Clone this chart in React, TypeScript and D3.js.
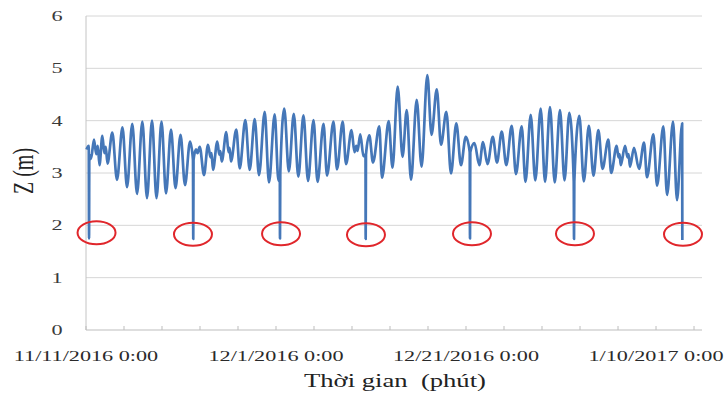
import React from "react";
import * as d3 from "d3";

// Water level record, Z (m), starting 11/11/2016 0:00; time is in days from the start.
const START = new Date(2016, 10, 11, 0, 0);
const DAY_MS = 86400000;

const tideDays = [
  0.05, 0.29, 0.35, 0.53, 0.84, 1.08, 1.24, 1.42, 1.72, 1.93, 2.08, 2.26, 2.77, 3.26, 3.84, 4.32,
  4.87, 5.37, 5.93, 6.42, 6.95, 7.42, 7.95, 8.42, 8.95, 9.42, 9.95, 10.42, 10.95, 11.26,
  11.32, 11.58, 11.74, 11.97, 12.42, 12.84, 13.11, 13.21, 13.37, 13.82, 14.03, 14.14, 14.29,
  14.77, 15.0, 15.11, 15.26, 15.82, 16.18, 16.77, 17.23, 17.76, 18.21, 18.81, 19.26, 19.86,
  20.26, 20.4, 20.45, 20.87, 21.35, 21.87, 22.35, 22.89, 23.37, 23.95, 24.37, 25.0, 25.37,
  26.05, 26.42, 27.02, 27.37, 27.95, 28.26, 28.45, 28.58, 28.87, 29.21, 29.42, 29.47, 29.82,
  30.21, 30.87, 31.16, 31.86, 32.26, 32.81, 33.32, 33.76, 34.21, 34.81, 35.32, 35.93, 36.37,
  36.92, 37.37, 37.93, 38.42, 38.98, 39.47, 39.97, 40.39, 40.45, 40.89, 41.4, 41.79, 42.26,
  42.82, 43.26, 43.76, 44.24, 44.81, 45.26, 45.86, 46.26, 46.81, 47.29, 47.86, 48.32, 48.84,
  49.34, 49.89, 50.37, 50.87, 51.34, 51.4, 51.93, 52.4, 52.93, 53.42, 53.93, 54.37, 54.98,
  55.28, 55.86, 56.05, 56.16, 56.29, 56.74, 57.0, 57.11, 57.26, 57.68, 58.21, 58.74, 59.05,
  59.72, 60.11, 60.77, 61.16, 61.79, 62.21, 62.75,
];

const tideLevels = [
  3.45, 3.52, 3.35, 3.27, 3.64, 3.36, 3.52, 3.15, 3.71, 3.38, 3.5, 3.18, 3.77, 2.87, 3.87, 2.73,
  3.94, 2.6, 3.98, 2.52, 4.0, 2.52, 3.98, 2.61, 3.83, 2.71, 3.73, 2.77, 3.6, 3.25,
  3.25, 3.45, 3.38, 3.5, 2.96, 3.54, 3.3, 3.38, 3.06, 3.6, 3.35, 3.42, 3.22,
  3.78, 3.4, 3.48, 3.22, 3.83, 3.09, 4.01, 3.06, 4.03, 2.96, 4.17, 2.82, 4.12,
  2.85, 3.0, 3.0, 4.23, 3.03, 4.13, 2.93, 4.1, 2.85, 4.01, 2.83, 3.94, 2.95,
  3.98, 3.07, 3.98, 3.17, 3.82, 3.4, 3.52, 3.42, 3.74, 3.32, 3.35, 3.35, 3.72,
  3.2, 3.89, 2.91, 3.99, 3.1, 4.65, 3.31, 4.2, 2.87, 4.4, 3.12, 4.87, 3.73,
  4.6, 3.54, 4.17, 2.99, 3.95, 3.15, 3.69, 3.4, 3.4, 3.57, 3.15, 3.59, 3.17,
  3.69, 3.2, 3.79, 3.15, 3.9, 2.98, 3.89, 2.83, 4.11, 2.86, 4.23, 2.83, 4.26,
  2.82, 4.2, 2.86, 4.15, 2.84, 2.84, 4.09, 2.84, 3.9, 2.95, 3.82, 3.08, 3.64,
  3.0, 3.52, 3.3, 3.36, 3.15, 3.52, 3.3, 3.36, 3.12, 3.48, 3.08, 3.58, 2.92,
  3.74, 2.76, 3.89, 2.58, 3.98, 2.48, 3.95,
];

// Faulty readings at the joins between logger downloads
const gapDays = [0.32, 11.29, 20.42, 29.44, 40.42, 51.37, 62.77];
const gapLevels = [1.75, 1.74, 1.75, 1.74, 1.75, 1.74, 1.72];

// Circled faulty readings (ellipse centres)
const markDays = [1.11, 11.26, 20.53, 29.47, 40.63, 51.47, 62.84];
const markLevels = [1.86, 1.83, 1.84, 1.82, 1.84, 1.84, 1.83];

const yTicks = [0, 1, 2, 3, 4, 5, 6];
const xTickDays = [0, 4, 8, 12, 16, 20, 24, 28, 32, 36, 40, 44, 48, 52, 56, 60, 64];
const xLabelDays = [0, 20, 40, 60];
const AXIS_END_DAY = 64.84;

const W = 724;
const H = 394;
const M = { left: 86, right: 702, top: 16, bottom: 330 };
const FONT = "'Liberation Serif', 'Times New Roman', serif";
const STRETCH = 1.48;

const toDate = (d: number) => new Date(START.getTime() + d * DAY_MS);

export default function App() {
  const x = d3
    .scaleTime()
    .domain([START, toDate(AXIS_END_DAY)])
    .range([M.left, M.right]);
  const y = d3.scaleLinear().domain([0, 6]).range([M.bottom, M.top]);

  const points: [number, number][] = tideDays
    .map((d, i) => [d, tideLevels[i]] as [number, number])
    .concat(gapDays.map((d, i) => [d, gapLevels[i]] as [number, number]))
    .sort((a, b) => a[0] - b[0]);

  const line = d3
    .line<[number, number]>()
    .x((p) => x(toDate(p[0])))
    .y((p) => y(p[1]))
    .curve(d3.curveMonotoneX);

  const fmt = d3.timeFormat("%-m/%-d/%Y %-H:%M");

  return (
    <svg
      width={W}
      height={H}
      style={{ position: "absolute", left: 0, top: 0, background: "#fff" }}
    >
      {/* horizontal gridlines */}
      {yTicks.map((t) => (
        <line
          key={"g" + t}
          x1={M.left}
          x2={M.right}
          y1={y(t)}
          y2={y(t)}
          stroke={t === 0 ? "#bdbdbd" : "#d6d6d6"}
          strokeWidth={1}
        />
      ))}
      {/* left axis */}
      <line x1={M.left} x2={M.left} y1={M.top} y2={M.bottom} stroke="#c4c4c4" />
      {/* x ticks (inside) */}
      {xTickDays.map((d) => (
        <line
          key={"t" + d}
          x1={x(toDate(d))}
          x2={x(toDate(d))}
          y1={M.bottom}
          y2={M.bottom - 4}
          stroke="#bdbdbd"
        />
      ))}
      {/* y tick labels */}
      {yTicks.map((t) => (
        <text
          key={"yl" + t}
          transform={`translate(57, ${y(t) + 5}) scale(${STRETCH}, 1)`}
          textAnchor="middle"
          fontFamily={FONT}
          fontSize={15}
          fill="#3a3a3a"
        >
          {t}
        </text>
      ))}
      {/* x tick labels */}
      {xLabelDays.map((d) => (
        <text
          key={"xl" + d}
          transform={`translate(${x(toDate(d))}, 361) scale(${STRETCH}, 1)`}
          textAnchor="middle"
          fontFamily={FONT}
          fontSize={15}
          fill="#2a2a2a"
        >
          {fmt(toDate(d))}
        </text>
      ))}
      {/* water level */}
      <path
        d={line(points) ?? ""}
        fill="none"
        stroke="#4577b8"
        strokeWidth={2.7}
        strokeLinejoin="round"
      />
      {/* circled faulty readings */}
      {markDays.map((d, i) => (
        <ellipse
          key={"m" + i}
          cx={x(toDate(d))}
          cy={y(markLevels[i])}
          rx={19}
          ry={11.5}
          fill="none"
          stroke="#e0262b"
          strokeWidth={2}
        />
      ))}
      {/* axis titles */}
      <text
        transform={`translate(33, 171) scale(${STRETCH}, 1) rotate(-90)`}
        textAnchor="middle"
        fontFamily={FONT}
        fontSize={20}
        fill="#222"
      >
        Z (m)
      </text>
      <text
        transform={`translate(395, 387) scale(${STRETCH}, 1)`}
        textAnchor="middle"
        fontFamily={FONT}
        fontSize={18}
        fill="#222"
        style={{ whiteSpace: "pre" }}
      >
        {"Thời gian  (phút)"}
      </text>
    </svg>
  );
}
